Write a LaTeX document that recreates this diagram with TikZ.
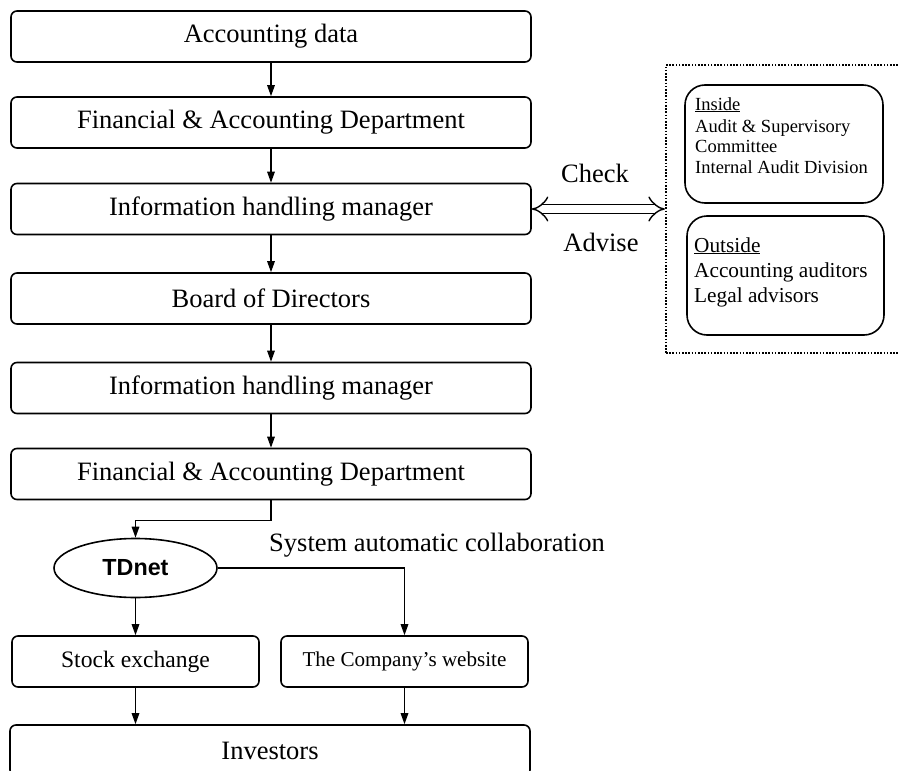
\documentclass[tikz,border=0pt]{standalone}
\usepackage{fontspec}
\setmainfont{Liberation Serif}
\newfontfamily\arialfont{Liberation Sans}
\usetikzlibrary{arrows.meta,shapes.geometric}
\begin{document}
\begin{tikzpicture}[x=1pt,y=-1pt,
  mainbox/.style={draw,rounded corners=6pt,line width=1.6pt,minimum width=520pt,minimum height=51pt,inner sep=0pt,font=\fontsize{26.5}{30}\selectfont},
  subbox/.style={draw,rounded corners=6pt,line width=1.6pt,minimum width=247pt,minimum height=51pt,inner sep=0pt},
  sidebox/.style={draw,rounded corners=20pt,line width=1.6pt,inner sep=0pt},
  flow/.style={line width=1.5pt,-{Triangle[length=11pt,width=7.5pt]}},
  plain/.style={font=\fontsize{26.5}{30}\selectfont,inner sep=0pt},
  intext/.style={anchor=base west,inner sep=0pt,font=\fontsize{18.5}{21}\selectfont},
  outtext/.style={anchor=base west,inner sep=0pt,font=\fontsize{21.3}{25}\selectfont}]
\clip (0,0) rectangle (898,771);
\fill[white] (0,0) rectangle (898,771);
% main column
\node[mainbox] (b1) at (271,36.5) {Accounting data};
\node[mainbox] (b2) at (271,122.5) {Financial \& Accounting Department};
\node[mainbox] (b3) at (271,209) {Information handling manager};
\node[mainbox] (b4) at (271,298.5) {Board of Directors};
\node[mainbox] (b5) at (271,388) {Information handling manager};
\node[mainbox] (b6) at (271,474) {Financial \& Accounting Department};
\draw[flow] (b1) -- (b2);
\draw[flow] (b2) -- (b3);
\draw[flow] (b3) -- (b4);
\draw[flow] (b4) -- (b5);
\draw[flow] (b5) -- (b6);
% TDnet
\node[draw,ellipse,line width=1.6pt,minimum width=163pt,minimum height=59pt,inner sep=0pt,font=\arialfont\bfseries\fontsize{23.3}{26}\selectfont] (td) at (135.5,568) {TDnet};
\draw[flow] (b6.south) -- ++(0,20) -| (td.north);
\node[subbox,font=\fontsize{23.6}{28}\selectfont] (stock) at (135.5,661.5) {Stock exchange};
\node[subbox,font=\fontsize{21.1}{25}\selectfont] (web) at (404.5,661.5) {The Company’s website};
\node[mainbox] (inv) at (270,750.5) {Investors};
\draw[flow] (td) -- (stock);
\draw[flow] (td.east) -| (web.north);
\draw[flow] (stock.south) -- (stock.south |- inv.north);
\draw[flow] (web.south) -- (web.south |- inv.north);
\node[plain] (sac) at (437,545) {System automatic collaboration};
% right panel
\node[draw,line width=2.2pt,dash pattern=on 1.6pt off 1.6pt,minimum width=260pt,minimum height=288pt,inner sep=0pt] (panel) at (796,209) {};
\node[sidebox,minimum width=198pt,minimum height=118pt] (ins) at (784,144) {};
\node[sidebox,minimum width=197pt,minimum height=119pt] (outs) at (785.5,275.5) {};
\node[intext] (in1) at (695,110) {\underline{Inside}};
\node[intext] (in2) at (695,132) {Audit \& Supervisory};
\node[intext] (in3) at (695,152.5) {Committee};
\node[intext] (in4) at (695,173) {Internal Audit Division};
\node[outtext] (out1) at (694,252) {\underline{Outside}};
\node[outtext] (out2) at (694,277) {Accounting auditors};
\node[outtext] (out3) at (694,302) {Legal advisors};
% check / advise
\draw[double,double distance=7.5pt,line width=1.4pt,{Implies[length=8pt]}-{Implies[length=8pt]}] (b3.east) -- (b3.east -| panel.west);
\node[plain] (chk) at (595,173) {Check};
\node[plain] (adv) at (601,242) {Advise};
\end{tikzpicture}
\end{document}
